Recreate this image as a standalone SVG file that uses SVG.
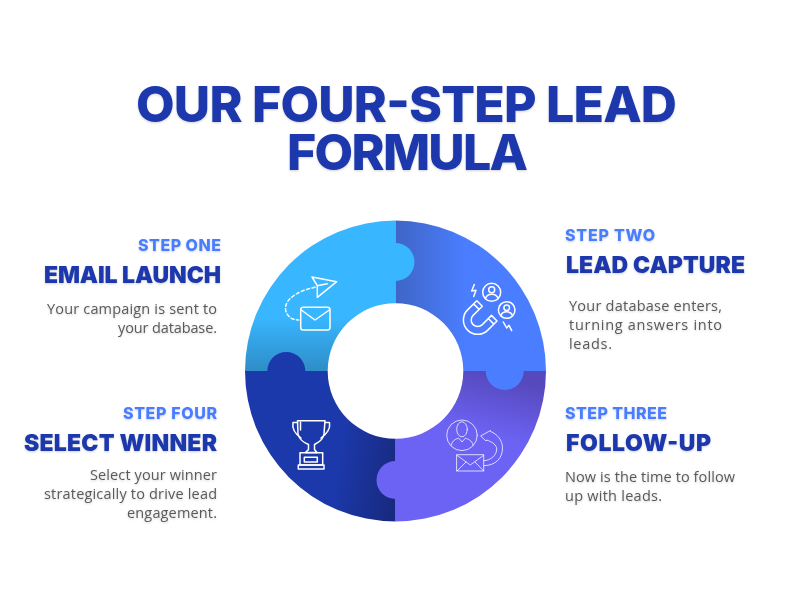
<svg xmlns="http://www.w3.org/2000/svg" width="800" height="600" viewBox="0 0 800 600">
<style>
text{font-family:"Inter","Liberation Sans",sans-serif}
.title{font-size:50px;font-weight:800;fill:#1c39ac;filter:url(#sh)}
.step{font-size:16px;font-weight:800;fill:#4a7dff;filter:url(#sh)}
.head{font-size:23px;font-weight:900;fill:#1c39ac;filter:url(#sh)}
.body{font-family:"Open Sans","Liberation Sans",sans-serif;font-size:14.5px;font-weight:400;fill:#5a5a5a;filter:url(#sh)}
.e{text-anchor:end}
.ic{fill:none;stroke:#fff;stroke-width:1.5;stroke-linecap:round;stroke-linejoin:round}
.thin{fill:none;stroke:#fff;stroke-opacity:.75;stroke-width:1;stroke-linecap:round;stroke-linejoin:round}
</style>
<defs>
<filter id="sh" x="-5%" y="-20%" width="110%" height="150%"><feDropShadow dx="0" dy="1" stdDeviation="1" flood-color="#000" flood-opacity=".18"/></filter>
<linearGradient id="g1" gradientUnits="userSpaceOnUse" x1="320" y1="318" x2="320" y2="371"><stop offset="0" stop-color="#38b6ff"/><stop offset="1" stop-color="#2e8dc6"/></linearGradient>
<linearGradient id="g2" gradientUnits="userSpaceOnUse" x1="396" y1="262" x2="465" y2="262"><stop offset="0" stop-color="#3f66c6"/><stop offset="1" stop-color="#4a7dff"/></linearGradient>
<linearGradient id="g3" gradientUnits="userSpaceOnUse" x1="480" y1="371" x2="465" y2="430"><stop offset="0" stop-color="#5649bd"/><stop offset="1" stop-color="#6c63f5"/></linearGradient>
<linearGradient id="g4" gradientUnits="userSpaceOnUse" x1="396" y1="480" x2="335" y2="470"><stop offset="0" stop-color="#182a80"/><stop offset="1" stop-color="#1c39ac"/></linearGradient>
</defs>
<rect width="800" height="600" fill="#fff"/>
<g id="title">
<text class="title" x="136" y="122" textLength="541">OUR FOUR-STEP LEAD</text>
<text class="title" x="287" y="170" textLength="241">FORMULA</text>
</g>
<g id="step-one">
<path d="M395.500 220.500A150.500 150.500 0 0 0 245 371H327.700A67.800 67.800 0 0 1 395.500 303.200Z" fill="url(#g1)"/>
<g class="ic">
<path d="M312 277L336.700 281.700L317.300 297.300V285.700ZM317.300 285.700L327.300 283.700"/>
<path d="M315 287.300C296 291 285 300 285.500 309C286 315 291 320 298.500 320" stroke-dasharray="3 2.600"/>
<rect x="300.700" y="307.300" width="29.300" height="22.700" rx="2.500"/>
<path d="M301.300 310L315 320L329.300 310"/>
</g>
<text class="step e" x="221" y="251" textLength="83">STEP ONE</text>
<text class="head e" x="221" y="282.500" textLength="177">EMAIL LAUNCH</text>
<text class="body e" x="217" y="314" textLength="170">Your campaign is sent to</text>
<text class="body e" x="217" y="333" textLength="99">your database.</text>
</g>
<g id="step-two">
<path d="M395.500 220.500A150.500 150.500 0 0 1 546 371H463.300A67.800 67.800 0 0 0 395.500 303.200Z" fill="url(#g2)"/>
<path d="M395.500 243A19 19 0 0 1 395.500 281Z" fill="#38b6ff"/>
<g class="ic">
<g transform="translate(477.700 320) rotate(45)"><path d="M-14.300 -13H-6.500V0A6.500 6.500 0 0 0 6.500 0V-13H14.300V0A14.300 14.300 0 0 1 -14.300 0ZM-14.300 -8.500H-6.500M6.500 -8.500H14.300"/></g>
<circle cx="491.700" cy="292.300" r="9"/><circle cx="491.700" cy="289.800" r="3"/><path d="M485.500 298.500C486.500 295 489 294.300 491.700 294.300S497 295 498 298.500"/>
<circle cx="506.700" cy="310" r="8.300"/><circle cx="506.700" cy="307.700" r="2.800"/><path d="M501 315.500C502 312.500 504 311.800 506.700 311.800S511.500 312.500 512.500 315.500"/>
<path d="M474.300 284.500L471.700 291L476 290.300L473.700 296.500"/>
<path d="M503.300 322L506.700 328L509 325.300L511.700 330.700"/>
</g>
<text class="step" x="565" y="241" textLength="90">STEP TWO</text>
<text class="head" x="566" y="272.500" textLength="179">LEAD CAPTURE</text>
<text class="body" x="569" y="311" textLength="153">Your database enters,</text>
<text class="body" x="569" y="330" textLength="153">turning answers into</text>
<text class="body" x="569" y="349" textLength="43">leads.</text>
</g>
<g id="step-three">
<path d="M546 371A150.500 150.500 0 0 1 395.500 521.500V438.800A67.800 67.800 0 0 0 463.300 371Z" fill="url(#g3)"/>
<path d="M485.700 371A19 19 0 0 0 523.700 371Z" fill="#4a7dff"/>
<g class="thin">
<circle cx="462" cy="435.300" r="15.300"/>
<ellipse cx="462" cy="429.300" rx="5.300" ry="7.500"/>
<path d="M451.500 445C452 440 456 439.500 458.500 438L462 442L465.500 438C468 439.500 472 440 473 445"/>
<rect x="457" y="454.700" width="26.700" height="16.300"/>
<path d="M457 455.300L470.300 465L483.700 455.300M457 471L466 462M483.700 471L475 462"/>
<path d="M484 465.700C496 465.500 502.500 458 502.500 448C502.500 440 497 434 490.500 431.500L490.500 430.500L480.700 436L486 441L486.500 440C492.500 442 496.700 445 496.700 449C496.700 455 491 460.500 484 460.700"/>
</g>
<text class="step" x="565" y="419" textLength="102">STEP THREE</text>
<text class="head" x="566" y="450.500" textLength="145">FOLLOW-UP</text>
<text class="body" x="565" y="482" textLength="170">Now is the time to follow</text>
<text class="body" x="565" y="501" textLength="97">up with leads.</text>
</g>
<g id="step-four">
<path d="M245 371A150.500 150.500 0 0 0 395.500 521.500V438.800A67.800 67.800 0 0 1 327.700 371Z" fill="url(#g4)"/>
<path d="M267.300 371A19 19 0 0 1 305.300 371Z" fill="#1c39ac"/>
<path d="M395.500 461A19 19 0 0 0 395.500 499Z" fill="#6c63f5"/>
<g class="ic">
<path d="M297.500 420.700H325L324 434C323 441 317 443 314.500 444.500L314.500 449.500L317 452.500H305.500L308.500 449.500L308.500 444.500C305 443 299 440 298 434Z"/>
<path d="M297.500 422.500H293C292 428 294 433 301 438M325 422.500H329.500C330.500 428 328 433 321 438"/>
<path d="M300.500 422V430"/>
<rect x="300" y="452.700" width="22.700" height="12.300"/>
<rect x="304.300" y="457.300" width="13" height="4.700"/>
<rect x="298.300" y="465" width="25.700" height="4"/>
</g>
<text class="step e" x="217" y="419" textLength="94">STEP FOUR</text>
<text class="head e" x="217" y="450.500" textLength="193">SELECT WINNER</text>
<text class="body e" x="217" y="480" textLength="127">Select your winner</text>
<text class="body e" x="217" y="499" textLength="173">strategically to drive lead</text>
<text class="body e" x="217" y="518" textLength="90">engagement.</text>
</g>
</svg>
